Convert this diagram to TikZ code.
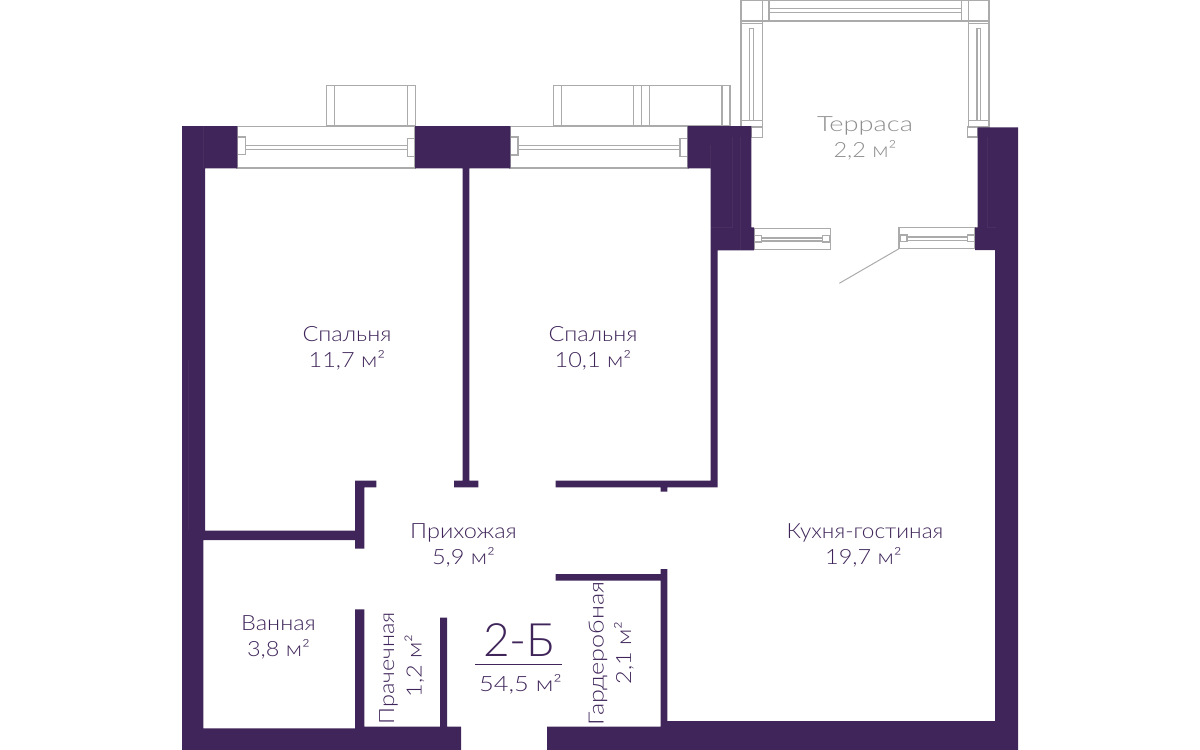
\documentclass[tikz,border=0pt]{standalone}
\usepackage{fontspec}
\setmainfont{Lato Light}
\newfontfamily\widefont[FakeStretch=1.12]{Lato Light}
\definecolor{wallc}{HTML}{3F2559}
\definecolor{seamc}{HTML}{473060}
\definecolor{framec}{HTML}{ABABAB}
\definecolor{terc}{HTML}{8E8E8E}
\tikzset{
  wall/.style={fill=wallc,draw=none},
  seam/.style={draw=seamc,line width=0.6pt},
  frame/.style={draw=framec,line width=1.1pt,fill=white},
  lbl/.style={text=wallc,font=\widefont\fontsize{21}{25}\selectfont,inner sep=0pt,align=center},
  terlbl/.style={lbl,text=terc},
  rlbl/.style={lbl,rotate=90}
}
\begin{document}
\begin{tikzpicture}[x=1pt,y=-1pt]
\useasboundingbox (0,0) rectangle (1200,750);
% bays
\foreach \a/\b in {326.7/415.3,553.3/641.3,641.3/730}{
  \draw[frame] (\a,85.3) rectangle (\b,126);
  \draw[frame] (\a+8,85.3) -- (\a+8,126);
  \draw[frame] (\b-8,85.3) -- (\b-8,126);
}
% south windows
\draw[frame] (237,126.5) rectangle (415,168);
\draw[frame] (237,137) rectangle (245.3,154.7);
\draw[frame] (407.3,138.7) rectangle (415,156.7);
\draw[frame] (245.3,145.3) rectangle (407.3,149.3);
\draw[frame] (510,126.5) rectangle (688,168);
\draw[frame] (510,137) rectangle (518,155);
\draw[frame] (680,138.3) rectangle (688,156.7);
\draw[frame] (518,145.3) rectangle (680,149.3);
% terrace top
\draw[frame] (741,0.5) rectangle (989,21);
\draw[frame] (762.3,0.5) -- (762.3,21);
\draw[frame] (769,0.5) -- (769,21);
\draw[frame] (961.7,0.5) -- (961.7,21);
\draw[frame] (968.3,0.5) -- (968.3,21);
\draw[frame] (769,8.7) rectangle (961.7,12.7);
% terrace left
\draw[frame] (741,21) rectangle (762.3,127);
\draw[frame] (741,23.3) -- (762.3,23.3);
\draw[frame] (749.3,28.3) rectangle (753.3,120.3);
\draw[frame] (741,120.5) -- (762.3,120.5);
\draw[frame] (751.7,127) rectangle (762.3,137.7);
% terrace right
\draw[frame] (968.3,21) rectangle (989,127);
\draw[frame] (968.3,23.3) -- (989,23.3);
\draw[frame] (977,28.3) rectangle (980.8,120.3);
\draw[frame] (968.3,120.5) -- (989,120.5);
\draw[frame] (967.7,127) rectangle (978,137);
% terrace doors
\draw[frame] (754,228.3) rectangle (830.3,249.7);
\draw[frame] (754.3,235.7) rectangle (761.7,242);
\draw[frame] (822.7,235.7) rectangle (830,242);
\draw[frame] (761.7,238) rectangle (822.7,241);
\draw[frame] (899,227.7) rectangle (975,248.7);
\draw[frame] (900,235) rectangle (907,241.5);
\draw[frame] (967.7,235) rectangle (974.7,241.5);
\draw[frame] (907,237) rectangle (967.7,240.3);
\coordinate (leafa) at (899,248.7);
\coordinate (leafb) at (839.3,283.3);
\draw[draw=framec,line width=1pt] (leafa) -- (leafb);
% walls
\fill[wall] (182,126) -- (237.3,126) -- (237.3,168.3) -- (205,168.3) -- (205,530.7) -- (355,530.7)
  -- (355,480.7) -- (376.3,480.7) -- (376.3,487.3) -- (364.3,487.3) -- (364.3,548.7) -- (355,548.7)
  -- (355,540) -- (203.3,540) -- (203.3,728.3) -- (355,728.3) -- (355,609.3) -- (364.3,609.3)
  -- (364.3,726.7) -- (440,726.7) -- (440,617.7) -- (447,617.7) -- (447,726.7) -- (461,726.7)
  -- (461,750) -- (182,750) -- cycle;
\fill[wall] (415,126) -- (510.3,126) -- (510.3,168.3) -- (469.3,168.3) -- (469.3,480.7) -- (478.3,480.7)
  -- (478.3,487.3) -- (454,487.3) -- (454,480.7) -- (462.7,480.7) -- (462.7,168.3) -- (415,168.3) -- cycle;
\fill[wall] (687.7,126) -- (751.3,126) -- (751.3,227.3) -- (754,227.3) -- (754,250.3) -- (717.7,250.3)
  -- (717.7,487.3) -- (667.3,487.3) -- (667.3,491.7) -- (660.7,491.7) -- (660.7,487.3) -- (555.7,487.3)
  -- (555.7,480.7) -- (710.7,480.7) -- (710.7,168.3) -- (687.7,168.3) -- cycle;
\fill[wall] (977.7,127.3) -- (1018,127.3) -- (1018,750) -- (547,750) -- (547,726.7) -- (660.7,726.7)
  -- (660.7,580.7) -- (555.7,580.7) -- (555.7,574) -- (660.7,574) -- (660.7,569) -- (667.3,569)
  -- (667.3,721) -- (995,721) -- (995,250) -- (975,250) -- (975,227.3) -- (977.7,227.3) -- cycle;
% seams
\draw[seam] (203.3,126) -- (203.3,168);
\draw[seam] (188,360) -- (188,530);
\draw[seam] (710.7,145) -- (710.7,168);
\draw[seam] (732.7,137) -- (732.7,227.3) -- (710.7,227.3);
\draw[seam] (740.7,137) -- (740.7,250);
\draw[seam] (987,137) -- (987,227.3) -- (996,227.3);
% labels
\node[lbl] (s1) at (347,348.5) {Спальня\\[1pt]11,7 м²};
\node[lbl] (s2) at (593,348.5) {Спальня\\[1pt]10,1 м²};
\node[lbl] (hall) at (463.5,545.5) {Прихожая\\[1pt]5,9 м²};
\node[lbl] (kit) at (865,545.5) {\scalebox{0.96}[1]{Кухня-гостиная}\\[1pt]\hspace*{-3pt}19,7 м²};
\node[lbl] (bath) at (278.5,637.5) {Ванная\\[1pt]3,8 м²};
\node[rlbl] (lau) at (388.5,668.5) {Прачечная};
\node[rlbl] (laua) at (414.5,666) {1,2 м²};
\node[rlbl] (war) at (598,653.5) {\scalebox{1.07}[1]{Гардеробная}};
\node[rlbl] (wara) at (624,653) {2,1 м²};
\node[terlbl] (ter) at (865,138) {\scalebox{1.16}[1]{Терраса}\\[1pt]2,2 м²};
\node[text=wallc,font=\fontsize{46}{50}\selectfont,inner sep=0pt] (num) at (519,640) {2-Б};
\coordinate (rulea) at (475,664);
\coordinate (ruleb) at (562,664);
\draw[draw=wallc,line width=1pt] (rulea) -- (ruleb);
\node[lbl] (area) at (520.5,684) {\scalebox{1.08}[1]{54,5 м²}};
\end{tikzpicture}
\end{document}
